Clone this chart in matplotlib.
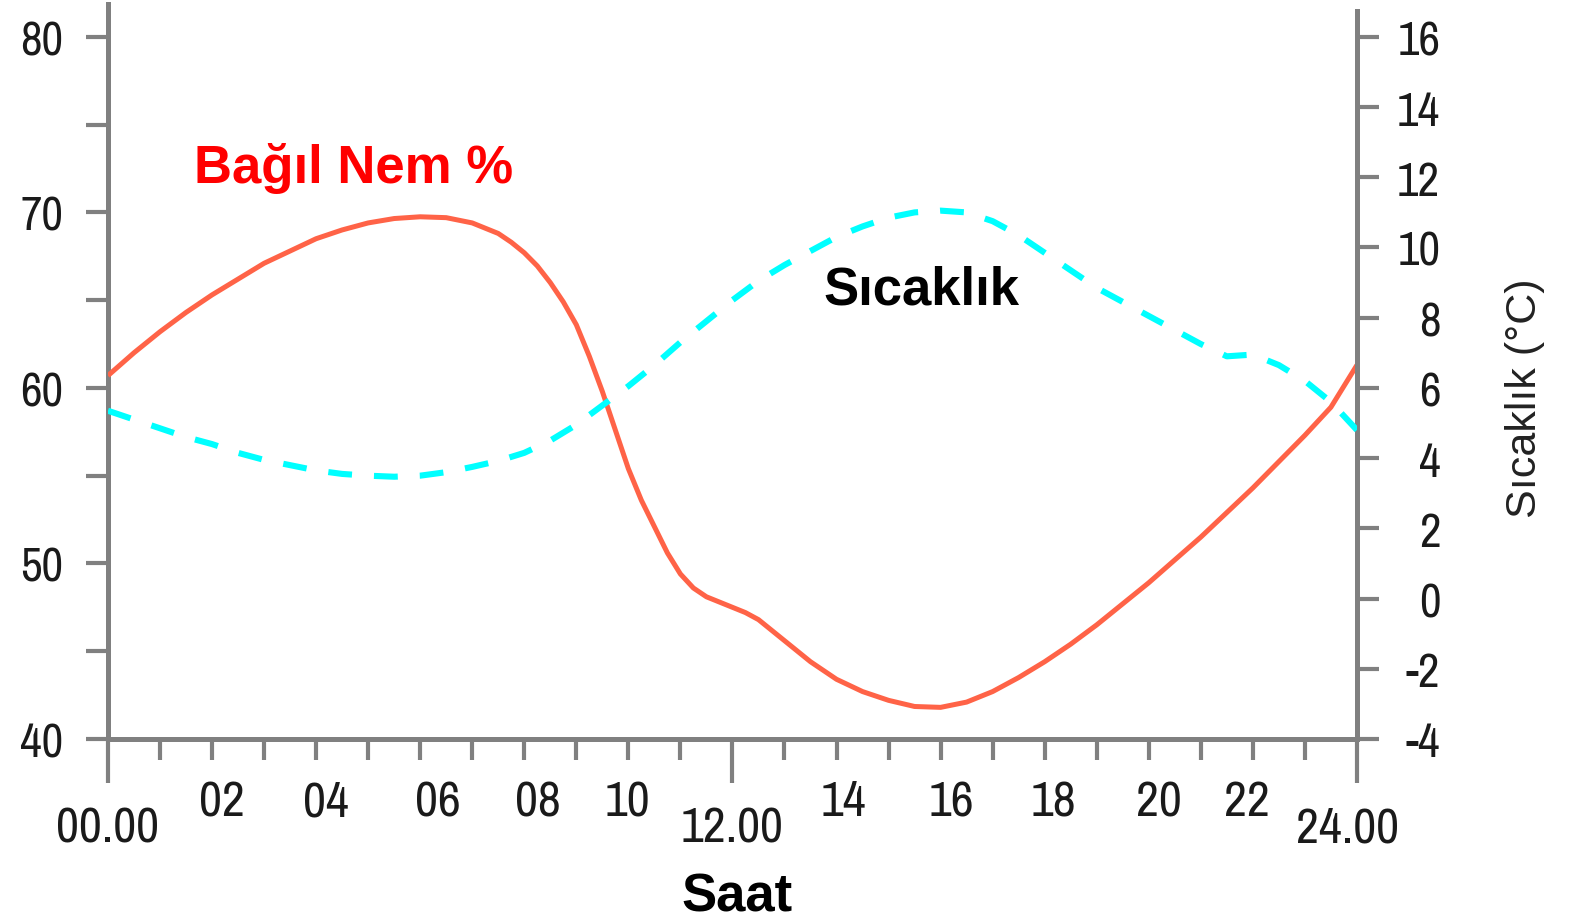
import matplotlib
matplotlib.use("Agg")
import matplotlib.pyplot as plt
from matplotlib import font_manager
from matplotlib.font_manager import FontProperties
from matplotlib.transforms import ScaledTranslation

plt.rcParams['font.family'] = ['Liberation Sans', 'DejaVu Sans']
plt.rcParams['axes.unicode_minus'] = False

# bagil nem % (sol eksen), saate gore
saat_nem = [0, 0.5, 1, 1.5, 2, 2.5, 3, 3.5, 4, 4.5, 5, 5.5, 6, 6.5, 7, 7.5,
            7.75, 8, 8.25, 8.5, 8.75, 9, 9.25, 9.5, 9.75, 10, 10.25, 10.5,
            10.75, 11, 11.25, 11.5, 11.75, 12, 12.25, 12.5, 13, 13.5, 14, 14.5,
            15, 15.5, 16, 16.5, 17, 17.5, 18, 18.5, 19, 19.5, 20, 20.5, 21,
            21.5, 22, 22.5, 23, 23.5, 24]
nem = [60.7, 62.0, 63.2, 64.3, 65.3, 66.2, 67.1, 67.8, 68.5, 69.0, 69.4, 69.65,
       69.75, 69.7, 69.4, 68.8, 68.3, 67.7, 66.95, 66.0, 64.9, 63.6, 61.8, 59.8,
       57.6, 55.4, 53.6, 52.1, 50.6, 49.4, 48.6, 48.1, 47.8, 47.5, 47.2, 46.8,
       45.6, 44.4, 43.4, 42.7, 42.2, 41.85, 41.8, 42.1, 42.7, 43.5, 44.4, 45.4,
       46.5, 47.7, 48.9, 50.2, 51.5, 52.9, 54.3, 55.8, 57.3, 58.9, 61.3]

# sicaklik degC (sag eksen), saate gore
saat_sic = [0, 0.5, 1, 1.5, 2, 2.5, 3, 3.5, 4, 4.5, 5, 5.5, 6, 6.5, 7, 7.5, 8,
            8.5, 9, 9.5, 10, 10.5, 11, 11.5, 12, 12.5, 13, 13.5, 14, 14.5, 15,
            15.5, 16, 16.5, 17, 17.5, 18, 18.5, 19, 19.5, 20, 20.5, 21, 21.5,
            22, 22.5, 23, 23.5, 24]
sicaklik = [5.35, 5.1, 4.85, 4.6, 4.4, 4.15, 3.95, 3.8, 3.65, 3.55, 3.5, 3.47,
            3.5, 3.6, 3.75, 3.92, 4.15, 4.5, 4.95, 5.5, 6.05, 6.65, 7.3, 7.9,
            8.5, 9.05, 9.5, 9.9, 10.3, 10.6, 10.85, 11.0, 11.05, 11.0, 10.75,
            10.35, 9.85, 9.35, 8.85, 8.45, 8.05, 7.65, 7.25, 6.9, 6.95, 6.65,
            6.2, 5.6, 4.8]

x_major = [0, 12, 24]
x_major_labels = ['00.00', '12.00', '24.00']
x_minor = [1, 2, 3, 4, 5, 6, 7, 8, 9, 10, 11, 13, 14, 15, 16, 17, 18, 19, 20, 21, 22, 23]
x_minor_labels = ['', '02', '', '04', '', '06', '', '08', '', '10', '',
                  '', '14', '', '16', '', '18', '', '20', '', '22', '']
nem_ticks = [40, 50, 60, 70, 80]
nem_minor = [45, 55, 65, 75]
sic_ticks = [-4, -2, 0, 2, 4, 6, 8, 10, 12, 14, 16]

gri = '#808080'
yazi = '#1a1a1a'


def dar_font():
    # look for a narrow / condensed regular sans face
    order = {'condensed': 0, 'semi-condensed': 1, 'extra-condensed': 2}
    bulunan = []
    for f in font_manager.fontManager.ttflist:
        if f.style != 'normal' or f.weight not in (400, 'normal', 'regular'):
            continue
        dar = f.stretch in order or 'Narrow' in f.name or 'Condensed' in f.name
        if not dar or 'Mono' in f.name or 'Serif' in f.name or 'CJK' in f.name:
            continue
        pri = 0 if 'Narrow' in f.name or 'Narrow' in f.fname else 1
        bulunan.append((pri, order.get(f.stretch, 0), f.fname))
    if not bulunan:
        return None
    bulunan.sort()
    return bulunan[0][2]


dar = dar_font()
if dar:
    fp_x = FontProperties(fname=dar, size=36)
    fp_y = FontProperties(fname=dar, size=34)
else:
    fp_x = FontProperties(family='Liberation Sans', size=31)
    fp_y = FontProperties(family='Liberation Sans', size=30)

fig = plt.figure(figsize=(15.78, 9.2), dpi=100)
ax = fig.add_axes([0.0684, 0.1957, 0.7915, 0.799])
ax2 = ax.twinx()

ax.plot(saat_nem, nem, color='tomato', lw=3.6, solid_capstyle='butt',
        solid_joinstyle='round', zorder=3)
ax2.plot(saat_sic, sicaklik, color='#00ffff', lw=4.4, dashes=(3.9, 3.6),
         dash_capstyle='butt', zorder=3)

ax.set_xlim(0, 24)
ax.set_ylim(40, 81.88)
ax2.set_ylim(-4, 16.94)

for s in ['top', 'right']:
    ax.spines[s].set_visible(False)
for s in ['top', 'left', 'bottom']:
    ax2.spines[s].set_visible(False)
for s in [ax.spines['left'], ax.spines['bottom'], ax2.spines['right']]:
    s.set_color(gri)
    s.set_linewidth(3.6)
ax2.spines['right'].set_bounds(-4, 16.74)

ax.set_xticks(x_major, x_major_labels)
ax.set_xticks(x_minor, x_minor_labels, minor=True)
ax.tick_params(axis='x', which='major', length=32, width=3, color=gri,
               pad=16, labelcolor=yazi)
ax.tick_params(axis='x', which='minor', length=15, width=3, color=gri,
               pad=14, labelcolor=yazi)

ax.set_yticks(nem_ticks)
ax.set_yticks(nem_minor, minor=True)
ax.tick_params(axis='y', which='both', length=16, width=3, color=gri,
               pad=16, labelcolor=yazi)

ax2.set_yticks(sic_ticks)
ax2.tick_params(axis='y', which='major', length=16, width=3, color=gri,
                pad=44, labelcolor=yazi)

for lbl in ax.get_xticklabels(which='both'):
    lbl.set_fontproperties(fp_x)
for lbl in ax.get_yticklabels():
    lbl.set_fontproperties(fp_y)
for lbl in ax2.get_yticklabels():
    lbl.set_fontproperties(fp_y)
    lbl.set_horizontalalignment('right')

# small sideways shifts of the hour labels, as in the drawing (points)
kayma = {'02': 7, '04': 7, '06': 13, '08': 10, '10': -1, '14': 5, '16': 8,
         '18': 6, '20': 7, '22': -4, '24.00': -7}
for lbl in ax.get_xticklabels(which='both'):
    d = kayma.get(lbl.get_text(), 0)
    if d:
        lbl.set_transform(lbl.get_transform()
                          + ScaledTranslation(d / 72, 0, fig.dpi_scale_trans))

ax.text(0.504, -0.2327, 'Saat', transform=ax.transAxes, ha='center',
        va='baseline', fontsize=38, fontweight='bold', color='black')
ax2.text(1.1345, 0.465, 'Sıcaklık (°C)', transform=ax.transAxes, rotation=90,
         ha='center', va='center', fontsize=31, color='#222222')

ax.text(0.0689, 0.758, 'Bağıl Nem %', transform=ax.transAxes, ha='left',
        va='baseline', fontsize=38, fontweight='bold', color='#ff0000')
ax.text(0.5725, 0.592, 'Sıcaklık', transform=ax.transAxes, ha='left',
        va='baseline', fontsize=38, fontweight='bold', color='black')

fig.savefig('out.png', dpi=100)
